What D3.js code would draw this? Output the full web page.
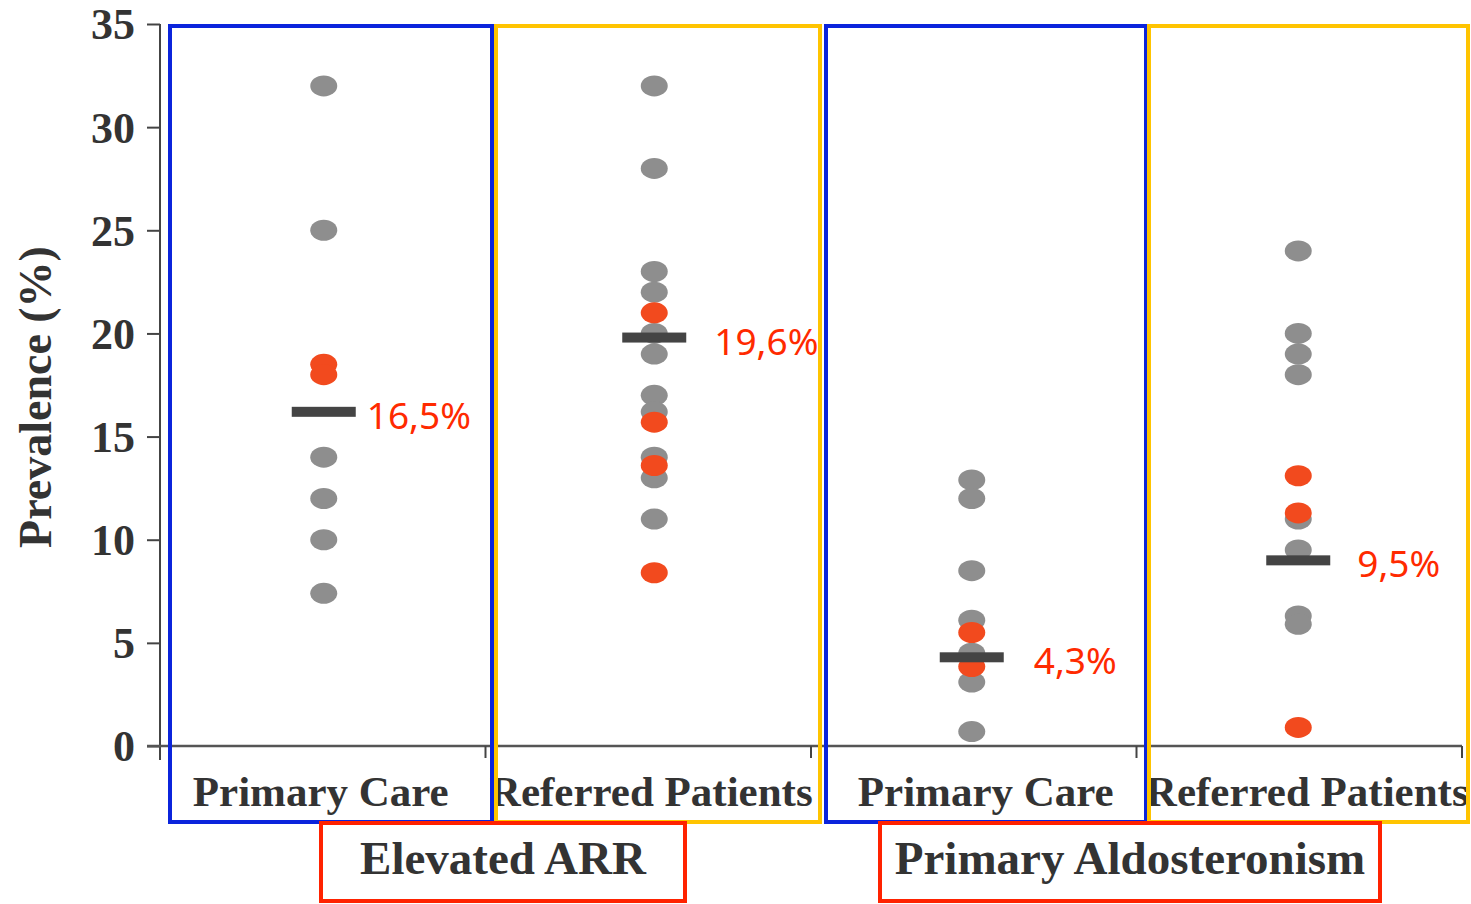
<!DOCTYPE html>
<html>
<head>
<meta charset="utf-8">
<script src="https://d3js.org/d3.v7.min.js"></script>
<style>
  body { margin: 0; background: #fff; }
</style>
</head>
<body>
<svg width="1471" height="904"></svg>

<script>
// values
const categories = ["Primary Care", "Referred Patients", "Primary Care", "Referred Patients"];
const groups = ["Elevated ARR", "Primary Aldosteronism"];
const yTicks = [0, 5, 10, 15, 20, 25, 30, 35];
const grayValues = [
  [32, 25, 14, 12, 10, 7.4],
  [32, 28, 23, 22, 20, 19, 17, 16.2, 14, 13, 11],
  [12.9, 12, 8.5, 6.1, 4.5, 3.1, 0.7],
  [24, 20, 19, 18, 11, 9.5, 6.3, 5.9]
];
const redValues = [
  [18.5, 18.0],
  [21, 15.7, 13.6, 8.4],
  [5.5, 3.85],
  [13.1, 11.3, 0.9]
];
const medians = [16.2, 19.8, 4.3, 9.0];
const medianLabels = ["16,5%", "19,6%", "4,3%", "9,5%"];

const svg = d3.select('svg');
const serif = '"Liberation Serif", "Times New Roman", serif';

var x = d3.scaleBand().domain(d3.range(categories.length)).range([160, 1462]);
var y = d3.scaleLinear().domain([0, 35]).range([746, 24]);
var bw = x.bandwidth();
// the strips in the original are not exactly centred in their bands
var stripDx = [1, 6, -2, -1];
var cx = function(i) { return x(i) + bw / 2 + stripDx[i]; };

// y axis
var yAxis = svg.append('g')
  .attr('transform', 'translate(160,0)')
  .call(d3.axisLeft(y).tickValues(yTicks).tickSize(13).tickPadding(12));
yAxis.select('.domain').remove();
yAxis.selectAll('line').attr('stroke', '#444').attr('stroke-width', 2);
yAxis.selectAll('text')
  .attr('font-family', serif).attr('font-weight', 'bold')
  .attr('font-size', 44).attr('fill', '#333').attr('dy', '0.34em');
svg.append('line')
  .attr('x1', 160).attr('x2', 160).attr('y1', y(35)).attr('y2', 760)
  .attr('stroke', '#444').attr('stroke-width', 2);

// x axis baseline with separators at the band edges
svg.append('line')
  .attr('x1', 147).attr('x2', 1462).attr('y1', y(0)).attr('y2', y(0))
  .attr('stroke', '#555').attr('stroke-width', 2.5);
svg.append('g').selectAll('line')
  .data(d3.range(1, categories.length + 1)).enter().append('line')
  .attr('x1', function(d) { return x(0) + d * bw; })
  .attr('x2', function(d) { return x(0) + d * bw; })
  .attr('y1', y(0)).attr('y2', y(0) + 12)
  .attr('stroke', '#444').attr('stroke-width', 2);

// y label
svg.append('text')
  .attr('transform', 'translate(51,397) rotate(-90)')
  .attr('text-anchor', 'middle')
  .attr('font-family', serif).attr('font-weight', 'bold')
  .attr('font-size', 46).attr('fill', '#333')
  .text('Prevalence (%)');

// dots
categories.forEach(function(c, i) {
  svg.append('g').selectAll('ellipse')
    .data(grayValues[i]).enter().append('ellipse')
    .attr('cx', cx(i)).attr('cy', function(d) { return y(d); })
    .attr('rx', 13.5).attr('ry', 10.5)
    .attr('fill', '#8e8e8e');
});
categories.forEach(function(c, i) {
  svg.append('g').selectAll('ellipse')
    .data(redValues[i]).enter().append('ellipse')
    .attr('cx', cx(i)).attr('cy', function(d) { return y(d); })
    .attr('rx', 13.5).attr('ry', 10.5)
    .attr('fill', '#f24a1e');
});

// median bars and labels
var labelDx = [43, 60, 62, 59];
svg.append('g').selectAll('rect')
  .data(medians).enter().append('rect')
  .attr('x', function(d, i) { return cx(i) - 32; })
  .attr('y', function(d) { return y(d) - 5; })
  .attr('width', 64).attr('height', 10)
  .attr('fill', '#444');
svg.append('g').selectAll('text')
  .data(medianLabels).enter().append('text')
  .attr('x', function(d, i) { return cx(i) + labelDx[i]; })
  .attr('y', function(d, i) { return y(medians[i]) + 17; })
  .attr('font-family', '"Noto Sans", sans-serif')
  .attr('font-size', 37).attr('fill', '#ff2a00')
  .text(function(d) { return d; });

// category labels
var catDx = [-2, 3, 12, 8];
svg.append('g').selectAll('text')
  .data(categories).enter().append('text')
  .attr('x', function(d, i) { return x(i) + bw / 2 + catDx[i]; })
  .attr('y', 806)
  .attr('text-anchor', 'middle')
  .attr('font-family', serif).attr('font-weight', 'bold')
  .attr('font-size', 43).attr('fill', '#333')
  .text(function(d) { return d; });

// coloured boxes round each category
var boxColor = ['#0b24dc', '#ffc400', '#0b24dc', '#ffc400'];
var boxL = [10, 10.5, 15, 12.5];
var boxR = [6.5, 9, 9.5, 6];
svg.append('g').selectAll('rect')
  .data(categories).enter().append('rect')
  .attr('x', function(d, i) { return x(i) + boxL[i]; })
  .attr('y', 26)
  .attr('width', function(d, i) { return bw - boxL[i] + boxR[i]; })
  .attr('height', 796)
  .attr('fill', 'none')
  .attr('stroke', function(d, i) { return boxColor[i]; })
  .attr('stroke-width', 4);

// group labels in red boxes
var groupCx = [503, 1130];
var groupW = [364, 500];
svg.append('g').selectAll('rect')
  .data(groups).enter().append('rect')
  .attr('x', function(d, i) { return groupCx[i] - groupW[i] / 2; })
  .attr('y', 823).attr('width', function(d, i) { return groupW[i]; }).attr('height', 78)
  .attr('fill', 'none').attr('stroke', '#ff2200').attr('stroke-width', 4);
svg.append('g').selectAll('text')
  .data(groups).enter().append('text')
  .attr('x', function(d, i) { return groupCx[i]; })
  .attr('y', 874)
  .attr('text-anchor', 'middle')
  .attr('font-family', serif).attr('font-weight', 'bold')
  .attr('font-size', 47).attr('fill', '#333')
  .text(function(d) { return d; });
</script>
</body>
</html>
